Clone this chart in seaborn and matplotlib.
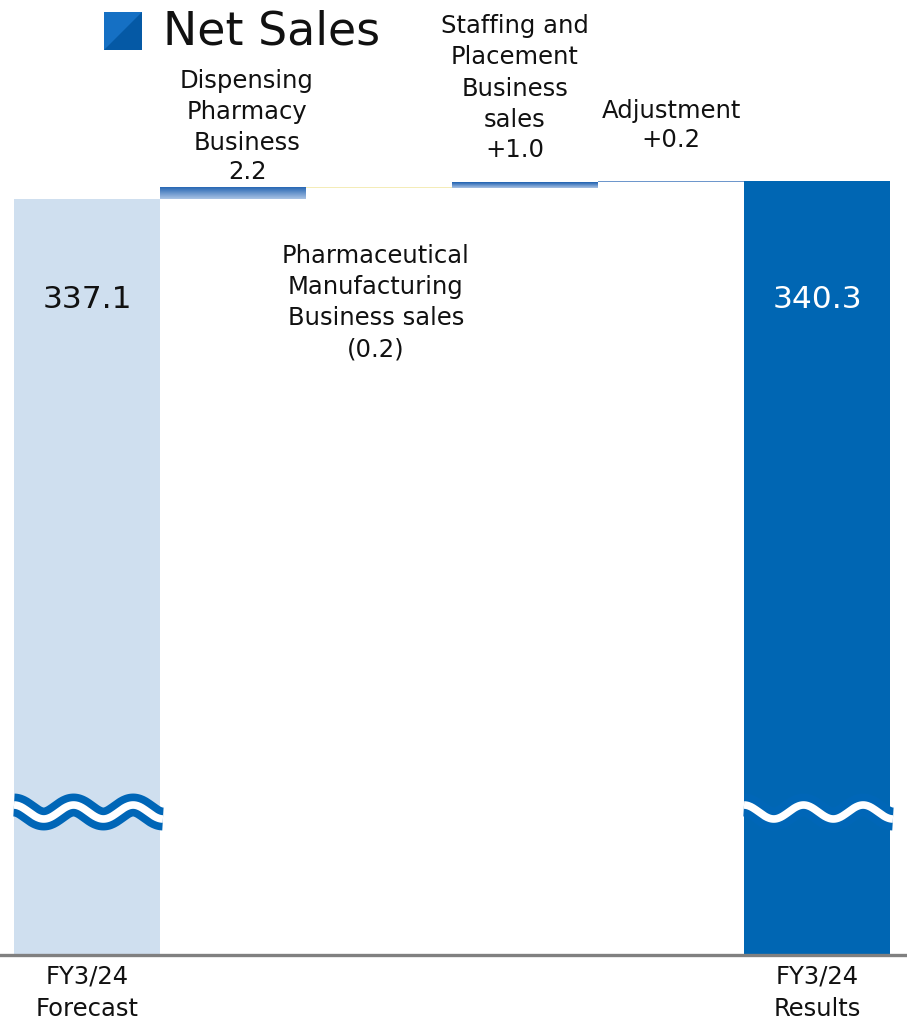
import numpy as np
import pandas as pd
import matplotlib
matplotlib.use("Agg")
import matplotlib.pyplot as plt
import matplotlib.transforms as mtransforms
from matplotlib import font_manager
from matplotlib.patches import Rectangle, Polygon
import seaborn as sns

# ---- data (billion yen) ----
categories = ["Forecast", "Dispensing", "Pharmaceutical", "Staffing", "Adjustment", "Results"]
forecast_total = 337.1
changes = [2.2, -0.2, 1.0, 0.2]
results_total = 340.3
step_names = [
    "Dispensing\nPharmacy\nBusiness",
    "Pharmaceutical\nManufacturing\nBusiness sales",
    "Staffing and\nPlacement\nBusiness\nsales",
    "Adjustment",
]
step_values = ["2.2", "(0.2)", "+1.0", "+0.2"]
tick_labels = ["FY3/24\nForecast", "", "", "", "", "FY3/24\nResults"]
value_labels = ["337.1", "340.3"]

# running totals for the waterfall
starts = [0.0]
heights = [forecast_total]
level = forecast_total
for c in changes:
    starts.append(level)
    heights.append(c)
    level += c
starts.append(0.0)
heights.append(results_total)

df = pd.DataFrame({"category": categories, "height": heights, "start": starts})

bar_colors = ["#CFDFEF", "#3F7CC2", "#F4ECB8", "#3F7CC2", "#6E97CC", "#0066B3"]
gradient_bars = {1: ("#1E60B0", "#A9C3E4"), 3: ("#1E60B0", "#A9C3E4")}

sns.set_style("white")
plt.rcParams["font.family"] = ["DejaVu Sans"]

W, H = 907, 1024
fig = plt.figure(figsize=(W / 100, H / 100), dpi=100)
axis_px = 955  # baseline position from top
ax = fig.add_axes([0, 1 - axis_px / H, 1, axis_px / H])

sns.barplot(data=df, x="category", y="height", bottom=df["start"].values,
            width=1.0, color=bar_colors[0], saturation=1, ax=ax, linewidth=0)

for i, p in enumerate(ax.patches):
    p.set_facecolor(bar_colors[i])
    p.set_edgecolor("none")

# broken axis: 5.625 px per unit with the forecast top at 199 px
px_per_unit = 5.625
ybot = forecast_total - (axis_px - 199) / px_per_unit
xlim = (-0.5 - 14 / 146, 5.5 + 17 / 146)
ylim = (ybot, ybot + axis_px / px_per_unit)

# vertical gradients on two of the step bars
for i, (ctop, cbot) in gradient_bars.items():
    p = ax.patches[i]
    x0, y0 = p.get_x(), min(p.get_y(), p.get_y() + p.get_height())
    x1, y1 = x0 + p.get_width(), max(p.get_y(), p.get_y() + p.get_height())
    cmap = matplotlib.colors.LinearSegmentedColormap.from_list("g", [cbot, ctop])
    grad = np.linspace(0, 1, 64).reshape(-1, 1)
    im = ax.imshow(grad, cmap=cmap, extent=[x0, x1, y0, y1], origin="lower",
                   aspect="auto", zorder=3, interpolation="bilinear")
    im.set_clip_path(p)
ax.set_xlim(*xlim)
ax.set_ylim(*ylim)

# axis styling
for s in ["left", "top", "right"]:
    ax.spines[s].set_visible(False)
ax.spines["bottom"].set_color("#808080")
ax.spines["bottom"].set_linewidth(2.4)
ax.set_yticks([])
ax.set_xlabel("")
ax.set_ylabel("")

narrow = "Liberation Sans Narrow"
names = {f.name for f in font_manager.fontManager.ttflist}
tick_family = [narrow, "DejaVu Sans"] if narrow in names else ["DejaVu Sans"]
ax.set_xticks(range(len(categories)))
ax.set_xticklabels(tick_labels, family=tick_family, fontsize=17.5, linespacing=1.42,
                   color="#111111")
ax.tick_params(axis="x", length=0, pad=7)

# break marks (wavy lines)
trans = mtransforms.blended_transform_factory(ax.transData, ax.transAxes)
wave_center = (axis_px - 812) / axis_px
wave_amp = 7 / axis_px
for xi in [0, 5]:
    xs = np.linspace(xi - 0.5, xi + 0.52, 200)
    ys = wave_center + wave_amp * np.cos(2 * np.pi * (xs - (xi - 0.5)) / (1.02 / 2.5))
    ax.plot(xs, ys, color="#0066B7", lw=16.5, transform=trans, clip_on=False,
            solid_capstyle="butt", zorder=5)
    ax.plot(xs, ys, color="white", lw=5.5, transform=trans, clip_on=False,
            solid_capstyle="butt", zorder=6)


def fy(px):
    return 1 - px / H


# value labels on the total bars
xfig = mtransforms.blended_transform_factory(ax.transData, fig.transFigure)
ax.text(0, fy(300), value_labels[0], transform=xfig,
        ha="center", va="center", fontsize=22.5, color="#111111")
ax.text(5, fy(300), value_labels[1], transform=xfig,
        ha="center", va="center", fontsize=22.5, color="white")

# step labels: name block centre and value centre (px from top)
name_pos = [(247, 112), (376, 287), (515, 73), (671, 111)]
value_pos = [(247, 172), (376, 350), (515, 150), (671, 140)]
for name, val, (xn, yn), (xv, yv) in zip(step_names, step_values, name_pos, value_pos):
    fig.text(xn / W, fy(yn), name, ha="center", va="center", fontsize=17.5,
             linespacing=1.38, color="#111111")
    fig.text(xv / W, fy(yv), val, ha="center", va="center", fontsize=17.5,
             color="#111111")

# legend marker and title
sq = Rectangle((104 / W, fy(50)), 38 / W, 38 / H, transform=fig.transFigure,
               facecolor="#0559A5", edgecolor="none")
fig.patches.append(sq)
tri = Polygon([(104 / W, fy(50)), (104 / W, fy(12)), (142 / W, fy(12))],
              closed=True, transform=fig.transFigure, facecolor="#1570C4", edgecolor="none")
fig.patches.append(tri)
fig.text(163 / W, fy(32), "Net Sales", ha="left", va="center", fontsize=33, color="#111111")

fig.savefig("out.png", dpi=100)
